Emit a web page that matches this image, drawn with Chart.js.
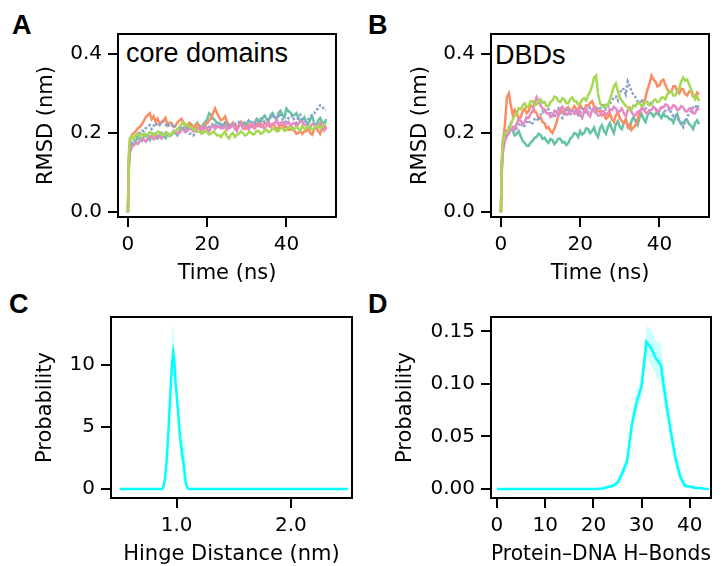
<!DOCTYPE html>
<html>
<head>
<meta charset="utf-8">
<script src="https://cdn.jsdelivr.net/npm/chart.js@4/dist/chart.umd.min.js"></script>
<style>
  body { margin: 0; width: 723px; height: 566px; overflow: hidden; background: #fff; position: relative; }
  canvas { position: absolute; }
  .letter { position: absolute; font: bold 27px/27px "Liberation Sans", Arial, sans-serif; color: #000; }
  .inset { position: absolute; font: 27px/27px "Liberation Sans", Arial, sans-serif; color: #000; white-space: nowrap; }
</style>
</head>
<body>
<div class="letter" style="left:12px; top:12px;">A</div>
<div class="letter" style="left:368px; top:12px;">B</div>
<div class="letter" style="left:9px; top:291px;">C</div>
<div class="letter" style="left:368px; top:291px;">D</div>
<div class="inset" style="left:126px; top:40px;">core domains</div>
<div class="inset" style="left:495px; top:42px;">DBDs</div>

<canvas id="chartA" width="361" height="290" style="left:0; top:0;"></canvas>
<canvas id="chartB" width="362" height="290" style="left:361px; top:0;"></canvas>
<canvas id="chartC" width="361" height="290" style="left:0; top:290px;"></canvas>
<canvas id="chartD" width="362" height="290" style="left:361px; top:290px;"></canvas>

<script>
// time axis of the RMSD traces (ns)
const timeNs = [0, 0.25, 0.5,
  1, 1.5, 2, 2.5, 3, 3.5, 4, 4.5, 5, 5.5,
  6, 6.5, 7, 7.5, 8, 8.5, 9, 9.5, 10, 10.5,
  11, 11.5, 12, 12.5, 13, 13.5, 14, 14.5, 15, 15.5,
  16, 16.5, 17, 17.5, 18, 18.5, 19, 19.5, 20, 20.5,
  21, 21.5, 22, 22.5, 23, 23.5, 24, 24.5, 25, 25.5,
  26, 26.5, 27, 27.5, 28, 28.5, 29, 29.5, 30, 30.5,
  31, 31.5, 32, 32.5, 33, 33.5, 34, 34.5, 35, 35.5,
  36, 36.5, 37, 37.5, 38, 38.5, 39, 39.5, 40, 40.5,
  41, 41.5, 42, 42.5, 43, 43.5, 44, 44.5, 45, 45.5,
  46, 46.5, 47, 47.5, 48, 48.5, 49, 49.5, 50];

// panel A - core domains RMSD (nm)
const coreTeal = [0, 0.13, 0.165,
  0.175, 0.17, 0.18, 0.188, 0.185, 0.18, 0.19, 0.196, 0.188, 0.182,
  0.192, 0.198, 0.19, 0.186, 0.195, 0.2, 0.192, 0.187, 0.198, 0.192,
  0.195, 0.202, 0.2, 0.194, 0.205, 0.212, 0.21, 0.204, 0.215, 0.222,
  0.212, 0.208, 0.22, 0.226, 0.215, 0.21, 0.222, 0.228, 0.235, 0.25,
  0.245, 0.236, 0.232, 0.225, 0.225, 0.214, 0.218, 0.226, 0.222, 0.212,
  0.215, 0.224, 0.22, 0.212, 0.218, 0.228, 0.225, 0.216, 0.222, 0.23,
  0.228, 0.22, 0.225, 0.236, 0.232, 0.226, 0.238, 0.244, 0.235, 0.23,
  0.245, 0.25, 0.24, 0.234, 0.25, 0.256, 0.245, 0.24, 0.262, 0.255,
  0.252, 0.244, 0.245, 0.25, 0.238, 0.23, 0.232, 0.24, 0.228, 0.222,
  0.235, 0.242, 0.225, 0.218, 0.232, 0.238, 0.228, 0.222, 0.235];
const coreOrange = [0, 0.14, 0.18,
  0.195, 0.2, 0.205, 0.212, 0.215, 0.222, 0.23, 0.24, 0.245, 0.25,
  0.235, 0.242, 0.228, 0.236, 0.222, 0.228, 0.232, 0.238, 0.22, 0.226,
  0.225, 0.215, 0.218, 0.226, 0.232, 0.236, 0.225, 0.218, 0.218, 0.226,
  0.222, 0.214, 0.215, 0.222, 0.22, 0.212, 0.212, 0.22, 0.225, 0.232,
  0.238, 0.25, 0.262, 0.25, 0.24, 0.232, 0.235, 0.242, 0.228, 0.222,
  0.22, 0.226, 0.215, 0.21, 0.222, 0.228, 0.218, 0.21, 0.212, 0.22,
  0.22, 0.214, 0.215, 0.222, 0.222, 0.216, 0.218, 0.226, 0.225, 0.218,
  0.215, 0.222, 0.218, 0.21, 0.212, 0.22, 0.22, 0.214, 0.215, 0.208,
  0.208, 0.214, 0.205, 0.198, 0.2, 0.206, 0.198, 0.204, 0.205, 0.212,
  0.2, 0.196, 0.21, 0.214, 0.205, 0.198, 0.212, 0.218, 0.208];
const coreBlue = [0, 0.12, 0.16,
  0.175, 0.182, 0.19, 0.196, 0.2, 0.206, 0.205, 0.212, 0.215, 0.22,
  0.21, 0.218, 0.225, 0.218, 0.22, 0.228, 0.228, 0.222, 0.215, 0.222,
  0.222, 0.214, 0.218, 0.21, 0.21, 0.218, 0.215, 0.208, 0.205, 0.198,
  0.198, 0.194, 0.2, 0.206, 0.208, 0.214, 0.215, 0.22, 0.21, 0.216,
  0.218, 0.224, 0.222, 0.214, 0.215, 0.222, 0.22, 0.226, 0.225, 0.218,
  0.218, 0.225, 0.222, 0.228, 0.228, 0.22, 0.22, 0.226, 0.225, 0.232,
  0.23, 0.224, 0.222, 0.23, 0.228, 0.236, 0.235, 0.228, 0.23, 0.238,
  0.24, 0.246, 0.235, 0.24, 0.242, 0.25, 0.235, 0.228, 0.23, 0.238,
  0.238, 0.244, 0.232, 0.226, 0.24, 0.246, 0.235, 0.23, 0.228, 0.235,
  0.24, 0.248, 0.25, 0.258, 0.262, 0.27, 0.268, 0.26, 0.258];
const corePink = [0, 0.11, 0.15,
  0.165, 0.17, 0.175, 0.172, 0.18, 0.186, 0.183, 0.178, 0.186, 0.192,
  0.19, 0.184, 0.188, 0.194, 0.192, 0.186, 0.195, 0.202, 0.2, 0.194,
  0.198, 0.206, 0.205, 0.198, 0.2, 0.208, 0.208, 0.202, 0.205, 0.212,
  0.21, 0.204, 0.205, 0.212, 0.212, 0.206, 0.208, 0.215, 0.21, 0.204,
  0.215, 0.22, 0.21, 0.216, 0.218, 0.212, 0.212, 0.218, 0.208, 0.214,
  0.215, 0.222, 0.21, 0.205, 0.218, 0.224, 0.212, 0.218, 0.215, 0.208,
  0.22, 0.226, 0.212, 0.218, 0.218, 0.224, 0.215, 0.21, 0.222, 0.228,
  0.218, 0.224, 0.225, 0.232, 0.22, 0.226, 0.228, 0.22, 0.222, 0.228,
  0.218, 0.224, 0.225, 0.218, 0.222, 0.23, 0.228, 0.22, 0.22, 0.214,
  0.215, 0.222, 0.222, 0.214, 0.218, 0.226, 0.212, 0.206, 0.218];
const coreGreen = [0, 0.15, 0.188,
  0.192, 0.186, 0.195, 0.2, 0.19, 0.196, 0.198, 0.192, 0.195, 0.202,
  0.2, 0.194, 0.198, 0.204, 0.202, 0.196, 0.195, 0.2, 0.2, 0.194,
  0.198, 0.204, 0.205, 0.21, 0.215, 0.222, 0.228, 0.22, 0.222, 0.216,
  0.215, 0.208, 0.21, 0.204, 0.205, 0.198, 0.2, 0.206, 0.202, 0.196,
  0.198, 0.204, 0.2, 0.194, 0.195, 0.19, 0.198, 0.204, 0.192, 0.186,
  0.196, 0.2, 0.19, 0.196, 0.198, 0.204, 0.2, 0.194, 0.196, 0.202,
  0.202, 0.196, 0.198, 0.205, 0.205, 0.198, 0.2, 0.206, 0.208, 0.202,
  0.205, 0.212, 0.21, 0.204, 0.205, 0.212, 0.212, 0.206, 0.208, 0.214,
  0.215, 0.208, 0.21, 0.216, 0.212, 0.206, 0.218, 0.212, 0.21, 0.216,
  0.215, 0.208, 0.212, 0.218, 0.218, 0.212, 0.215, 0.222, 0.22];

// panel B - DBDs RMSD (nm)
const dbdTeal = [0, 0.12, 0.16,
  0.185, 0.195, 0.2, 0.212, 0.205, 0.194, 0.198, 0.205, 0.192, 0.18,
  0.175, 0.168, 0.168, 0.176, 0.18, 0.188, 0.19, 0.198, 0.195, 0.185,
  0.188, 0.18, 0.175, 0.185, 0.182, 0.172, 0.178, 0.186, 0.185, 0.176,
  0.178, 0.17, 0.175, 0.186, 0.19, 0.2, 0.198, 0.19, 0.205, 0.196,
  0.2, 0.212, 0.21, 0.2, 0.205, 0.214, 0.198, 0.19, 0.212, 0.22,
  0.205, 0.198, 0.215, 0.225, 0.21, 0.2, 0.222, 0.23, 0.215, 0.21,
  0.225, 0.232, 0.22, 0.212, 0.232, 0.24, 0.228, 0.22, 0.24, 0.248,
  0.235, 0.228, 0.245, 0.252, 0.25, 0.242, 0.248, 0.256, 0.245, 0.238,
  0.25, 0.242, 0.242, 0.235, 0.235, 0.226, 0.24, 0.248, 0.23, 0.222,
  0.225, 0.232, 0.232, 0.222, 0.218, 0.21, 0.225, 0.232, 0.222];
const dbdOrange = [0, 0.13, 0.18,
  0.22, 0.29, 0.3, 0.27, 0.245, 0.258, 0.25, 0.235, 0.24, 0.255,
  0.262, 0.25, 0.255, 0.27, 0.268, 0.255, 0.25, 0.238, 0.24, 0.228,
  0.225, 0.212, 0.215, 0.205, 0.2, 0.212, 0.225, 0.245, 0.26, 0.252,
  0.25, 0.262, 0.265, 0.255, 0.255, 0.268, 0.262, 0.25, 0.27, 0.262,
  0.258, 0.27, 0.268, 0.276, 0.28, 0.268, 0.265, 0.255, 0.255, 0.245,
  0.248, 0.236, 0.24, 0.25, 0.235, 0.228, 0.245, 0.252, 0.238, 0.23,
  0.225, 0.235, 0.215, 0.222, 0.208, 0.215, 0.22, 0.235, 0.25, 0.262,
  0.275, 0.29, 0.31, 0.325, 0.345, 0.335, 0.33, 0.318, 0.32, 0.332,
  0.335, 0.322, 0.31, 0.302, 0.305, 0.318, 0.318, 0.305, 0.3, 0.312,
  0.31, 0.298, 0.295, 0.305, 0.305, 0.292, 0.29, 0.302, 0.298];
const dbdBlue = [0, 0.12, 0.17,
  0.2, 0.208, 0.215, 0.225, 0.22, 0.21, 0.212, 0.222, 0.225, 0.215,
  0.218, 0.228, 0.232, 0.222, 0.225, 0.235, 0.238, 0.23, 0.245, 0.255,
  0.25, 0.262, 0.26, 0.25, 0.248, 0.238, 0.255, 0.262, 0.245, 0.238,
  0.25, 0.262, 0.258, 0.248, 0.248, 0.26, 0.255, 0.245, 0.25, 0.262,
  0.258, 0.248, 0.252, 0.264, 0.26, 0.25, 0.255, 0.266, 0.262, 0.27,
  0.27, 0.26, 0.265, 0.275, 0.28, 0.29, 0.292, 0.282, 0.3, 0.312,
  0.31, 0.298, 0.33, 0.318, 0.305, 0.295, 0.29, 0.28, 0.275, 0.285,
  0.27, 0.262, 0.268, 0.278, 0.275, 0.265, 0.262, 0.25, 0.258, 0.268,
  0.265, 0.255, 0.255, 0.262, 0.25, 0.242, 0.245, 0.235, 0.235, 0.225,
  0.215, 0.228, 0.24, 0.25, 0.255, 0.265, 0.27, 0.262, 0.275];
const dbdPink = [0, 0.11, 0.15,
  0.18, 0.192, 0.2, 0.21, 0.215, 0.208, 0.225, 0.235, 0.23, 0.222,
  0.228, 0.24, 0.238, 0.248, 0.255, 0.275, 0.29, 0.28, 0.27, 0.262,
  0.26, 0.25, 0.25, 0.24, 0.245, 0.256, 0.252, 0.244, 0.26, 0.266,
  0.255, 0.246, 0.248, 0.258, 0.258, 0.248, 0.25, 0.26, 0.245, 0.238,
  0.255, 0.262, 0.248, 0.242, 0.258, 0.265, 0.252, 0.244, 0.245, 0.256,
  0.255, 0.246, 0.25, 0.26, 0.258, 0.266, 0.262, 0.252, 0.255, 0.262,
  0.25, 0.242, 0.258, 0.264, 0.252, 0.245, 0.245, 0.254, 0.255, 0.262,
  0.26, 0.252, 0.25, 0.258, 0.258, 0.265, 0.262, 0.254, 0.255, 0.265,
  0.265, 0.272, 0.27, 0.262, 0.262, 0.27, 0.268, 0.258, 0.26, 0.268,
  0.265, 0.255, 0.255, 0.262, 0.262, 0.25, 0.25, 0.262, 0.258];
const dbdGreen = [0, 0.14, 0.18,
  0.2, 0.205, 0.21, 0.222, 0.235, 0.244, 0.25, 0.262, 0.26, 0.27,
  0.275, 0.265, 0.268, 0.28, 0.28, 0.27, 0.272, 0.282, 0.285, 0.276,
  0.278, 0.268, 0.268, 0.278, 0.282, 0.292, 0.29, 0.28, 0.278, 0.288,
  0.285, 0.275, 0.275, 0.286, 0.29, 0.28, 0.28, 0.272, 0.275, 0.285,
  0.288, 0.282, 0.295, 0.305, 0.318, 0.34, 0.345, 0.3, 0.275, 0.268,
  0.265, 0.272, 0.27, 0.285, 0.3, 0.318, 0.325, 0.305, 0.29, 0.282,
  0.275, 0.268, 0.265, 0.258, 0.26, 0.27, 0.268, 0.276, 0.275, 0.268,
  0.27, 0.28, 0.278, 0.27, 0.272, 0.282, 0.285, 0.278, 0.28, 0.29,
  0.29, 0.285, 0.298, 0.305, 0.305, 0.295, 0.295, 0.305, 0.315, 0.33,
  0.34, 0.332, 0.335, 0.322, 0.31, 0.298, 0.285, 0.292, 0.28];

// panel C - hinge distance distribution
const hingeNm = [0.5, 0.87, 0.88, 0.89, 0.9, 0.91, 0.92, 0.93, 0.94, 0.95, 0.96, 0.97, 0.98, 0.99, 1.0,
  1.01, 1.02, 1.03, 1.04, 1.05, 1.06, 1.07, 1.08, 1.09, 1.1, 1.11, 2.5];
const hingeProb = [0, 0, 0.1, 0.4, 1.0, 2.0, 3.4, 5.0, 6.8, 8.6, 10.2, 11.0, 10.3, 8.6, 7.6,
  6.5, 5.3, 4.2, 3.4, 2.7, 2.1, 1.3, 0.5, 0.2, 0.05, 0, 0];
const hingeHi = [0, 0, 0.2, 0.6, 1.4, 2.6, 4.2, 6.0, 8.0, 10.2, 13.2, 12.8, 11.6, 10.0, 8.6,
  7.4, 6.0, 4.8, 4.0, 3.6, 4.3, 4.2, 1.5, 0.6, 0.2, 0, 0];
const hingeLo = [0, 0, 0, 0.2, 0.6, 1.4, 2.6, 4.0, 5.6, 7.2, 8.6, 9.2, 8.8, 7.6, 6.6,
  5.6, 4.4, 3.2, 2.4, 1.6, 0.8, 0.3, 0, 0, 0, 0, 0];

// panel D - protein-DNA hydrogen bond count distribution
const hbondCount = [0, 1, 2, 3, 4, 5, 6, 7, 8, 9, 10, 11, 12, 13, 14, 15, 16, 17, 18, 19, 20, 21, 22,
  23, 24, 25, 26, 27, 28, 29, 30, 31, 32, 33, 34, 35, 36, 37, 38, 39, 40, 41, 42, 43, 44];
const hbondProb = [0, 0, 0, 0, 0, 0, 0, 0, 0, 0, 0, 0, 0, 0, 0, 0, 0, 0, 0, 0, 0, 0.0003, 0.0005,
  0.002, 0.003, 0.006, 0.015, 0.027, 0.062, 0.083, 0.098, 0.14, 0.134, 0.124, 0.118, 0.085, 0.056, 0.03, 0.012, 0.003, 0.0025, 0.001, 0.001, 0.0003, 0];
const hbondHi = [0, 0, 0, 0, 0, 0, 0, 0, 0, 0, 0, 0, 0, 0, 0, 0, 0, 0, 0, 0, 0, 0.0006, 0.001,
  0.003, 0.005, 0.01, 0.02, 0.032, 0.072, 0.093, 0.108, 0.155, 0.152, 0.141, 0.138, 0.1, 0.068, 0.04, 0.02, 0.006, 0.004, 0.002, 0.0015, 0.0006, 0];
const hbondLo = [0, 0, 0, 0, 0, 0, 0, 0, 0, 0, 0, 0, 0, 0, 0, 0, 0, 0, 0, 0, 0, 0, 0,
  0.001, 0.001, 0.003, 0.01, 0.02, 0.05, 0.075, 0.088, 0.125, 0.118, 0.108, 0.1, 0.072, 0.045, 0.022, 0.006, 0.001, 0.001, 0, 0, 0, 0];

// tick values
const timeTicks = [0, 20, 40];
const rmsdTicks = [0, 0.2, 0.4];
const hingeTicks = [1.0, 2.0];
const hingeProbTicks = [0, 5, 10];
const hbondTicks = [0, 10, 20, 30, 40];
const hbondProbTicks = [0, 0.05, 0.1, 0.15];

const set2 = { teal: '#66c2a5', orange: '#fc8d62', blue: '#8da0cb', pink: '#e78ac3', green: '#a6d854' };
const FONT = '"DejaVu Sans", Verdana, sans-serif';

// draw the closed axes frame
const boxPlugin = {
  id: 'box',
  afterDraw(chart) {
    const { ctx, chartArea: a } = chart;
    ctx.save();
    ctx.strokeStyle = '#000';
    ctx.lineWidth = 2;
    ctx.strokeRect(a.left, a.top, a.right - a.left, a.bottom - a.top);
    ctx.restore();
  }
};

function pts(xs, ys) {
  return xs.map((x, i) => ({ x: x, y: ys[i] }));
}

function axis(opts) {
  const horiz = opts.pos === 'x';
  return {
    type: 'linear',
    position: horiz ? 'bottom' : 'left',
    min: opts.min,
    max: opts.max,
    afterBuildTicks: s => { s.ticks = opts.ticks.map(v => ({ value: v })); },
    afterFit: s => { if (horiz) s.height = opts.size; else s.width = opts.size; },
    grid: { drawOnChartArea: false, drawTicks: true, tickLength: 10, color: '#000', lineWidth: 2 },
    border: { display: false },
    ticks: {
      color: '#000', font: { family: FONT, size: 20 }, padding: 6,
      autoSkip: false, maxRotation: 0,
      callback: v => v.toFixed(opts.dec)
    },
    title: {
      display: true, text: opts.title, color: '#000',
      font: { family: FONT, size: 21 },
      padding: horiz ? { top: 0, bottom: 1 } : { top: opts.titlePad, bottom: 0 }
    }
  };
}

function rmsdChart(id, series, yWidth, titlePad, padRight) {
  // last listed is drawn first, so green ends on top
  const order = ['green', 'pink', 'blue', 'orange', 'teal'];
  new Chart(document.getElementById(id), {
    type: 'line',
    data: {
      datasets: order.map(k => ({
        data: pts(timeNs, series[k]),
        borderColor: set2[k],
        borderWidth: 2.5,
        borderDash: k === 'blue' ? [2.5, 2] : [],
        pointRadius: 0,
        tension: 0,
        fill: false
      }))
    },
    options: {
      responsive: false,
      animation: false,
      layout: { padding: { left: 0, top: 34, right: padRight, bottom: 3 } },
      plugins: { legend: { display: false }, tooltip: { enabled: false } },
      scales: {
        x: axis({ pos: 'x', min: -2.5, max: 52.5, ticks: timeTicks, dec: 0, size: 70, title: 'Time (ns)' }),
        y: axis({ pos: 'y', min: -0.012, max: 0.45, ticks: rmsdTicks, dec: 1, size: yWidth, title: 'RMSD (nm)', titlePad: titlePad })
      }
    },
    plugins: [boxPlugin]
  });
}

function distChart(id, xs, mean, hi, lo, xo, yo, yWidth, titlePad, padRight) {
  new Chart(document.getElementById(id), {
    type: 'line',
    data: {
      datasets: [
        { data: pts(xs, mean), borderColor: '#00ffff', borderWidth: 2.5, pointRadius: 0, tension: 0, fill: false },
        { data: pts(xs, hi), borderWidth: 0, borderColor: 'rgba(0,0,0,0)', backgroundColor: 'rgba(0,255,255,0.2)', pointRadius: 0, tension: 0, fill: '+1' },
        { data: pts(xs, lo), borderWidth: 0, borderColor: 'rgba(0,0,0,0)', pointRadius: 0, tension: 0, fill: false }
      ]
    },
    options: {
      responsive: false,
      animation: false,
      layout: { padding: { left: 0, top: 27, right: padRight, bottom: 12 } },
      plugins: { legend: { display: false }, tooltip: { enabled: false } },
      scales: {
        x: axis(Object.assign({ pos: 'x', size: 70 }, xo)),
        y: axis(Object.assign({ pos: 'y', size: yWidth, title: 'Probability', titlePad: titlePad }, yo))
      }
    },
    plugins: [boxPlugin]
  });
}

rmsdChart('chartA', { teal: coreTeal, orange: coreOrange, blue: coreBlue, pink: corePink, green: coreGreen }, 118, 34, 25);
rmsdChart('chartB', { teal: dbdTeal, orange: dbdOrange, blue: dbdBlue, pink: dbdPink, green: dbdGreen }, 130, 47, 14);

distChart('chartC', hingeNm, hingeProb, hingeHi, hingeLo,
  { min: 0.425, max: 2.536, ticks: hingeTicks, dec: 1, title: 'Hinge Distance (nm)' },
  { min: -0.72, max: 13.87, ticks: hingeProbTicks, dec: 0 },
  111, 33, 9);
distChart('chartD', hbondCount, hbondProb, hbondHi, hbondLo,
  { min: -1.24, max: 44.4, ticks: hbondTicks, dec: 0, title: 'Protein\u2013DNA H\u2013Bonds' },
  { min: -0.0085, max: 0.1636, ticks: hbondProbTicks, dec: 2 },
  130, 32, 12);
</script>
</body>
</html>
